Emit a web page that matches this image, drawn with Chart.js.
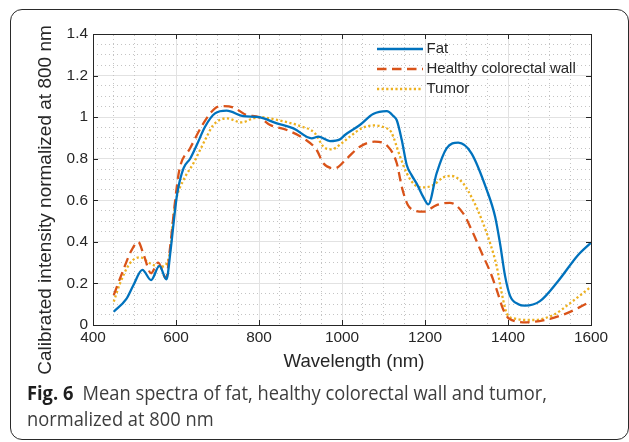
<!DOCTYPE html>
<html>
<head>
<meta charset="utf-8">
<script src="https://cdn.jsdelivr.net/npm/chart.js@4/dist/chart.umd.min.js"></script>
<style>
  html, body { margin: 0; padding: 0; background: #fff; }
  body { width: 629px; height: 442px; position: relative; overflow: hidden; }
  #frame {
    position: absolute; left: 10px; top: 9px; width: 619px; height: 431px;
    box-sizing: border-box; border: 1.3px solid #2a2a2a; border-radius: 12px;
  }
  #spectra-chart { position: absolute; left: 0; top: 0; }
  #caption {
    position: absolute; left: 27px; top: 380px; white-space: nowrap;
    font-family: "Open Sans", sans-serif; font-size: 20px; line-height: 26px;
    color: #3d3d3d; transform-origin: 0 0;
  }
  #caption b { color: #1e1e1e; margin-right: 10px; }
</style>
</head>
<body>
<div id="frame"></div>
<canvas id="spectra-chart" width="629" height="442"></canvas>
<div id="caption"><span id="cap-line"><b>Fig. 6</b>Mean spectra of fat, healthy colorectal wall and tumor,</span><br>normalized at 800 nm</div>
<script>
const X_TITLE = 'Wavelength (nm)';
const Y_TITLE = 'Calibrated intensity normalized at 800 nm';
const SERIES_NAMES = ['Fat', 'Healthy colorectal wall', 'Tumor'];

// values (wavelength in nm, intensity normalized at 800 nm)
const fatWl = [450, 480, 497, 519, 540, 560, 577, 587, 595, 603, 618, 634, 650, 670, 694, 722, 762, 800, 843, 883,
  927, 943, 971, 995, 1007, 1043, 1075, 1108, 1124, 1132, 1144, 1156, 1168, 1180, 1196, 1208, 1228, 1252, 1280, 1312,
  1349, 1369, 1381, 1393, 1405, 1425, 1441, 1477, 1521, 1569, 1600];
const fatVal = [0.064, 0.124, 0.19, 0.265, 0.216, 0.284, 0.22, 0.36, 0.505, 0.633, 0.754, 0.80, 0.866, 0.954, 1.018, 1.031, 1.005, 1.0, 0.970, 0.946,
  0.898, 0.906, 0.885, 0.893, 0.914, 0.962, 1.015, 1.029, 1.005, 0.985, 0.89, 0.77, 0.72, 0.68, 0.615, 0.58, 0.73, 0.85, 0.877, 0.826,
  0.649, 0.521, 0.39, 0.235, 0.14, 0.1, 0.093, 0.115, 0.212, 0.337, 0.396];

const healthyWl = [450, 473, 493, 509, 521, 540, 557, 576, 586, 598, 608, 634, 666, 694, 714, 738, 770, 800, 827, 867,
  911, 939, 955, 983, 1011, 1043, 1078, 1110, 1132, 1144, 1158, 1176, 1196, 1228, 1260, 1292, 1316, 1337, 1357, 1373,
  1389, 1403, 1445, 1501, 1541, 1578, 1600];
const healthyVal = [0.144, 0.265, 0.36, 0.40, 0.345, 0.249, 0.30, 0.224, 0.377, 0.60, 0.746, 0.85, 0.97, 1.042, 1.053, 1.047, 1.01, 1.0, 0.962, 0.938,
  0.893, 0.842, 0.778, 0.754, 0.80, 0.858, 0.882, 0.86, 0.778, 0.665, 0.58, 0.55, 0.545, 0.577, 0.588, 0.537, 0.441, 0.345, 0.256, 0.168,
  0.072, 0.03, 0.013, 0.03, 0.056, 0.091, 0.114];

const tumorWl = [450, 465, 489, 513, 537, 561, 578, 586, 592, 600, 618, 642, 670, 690, 722, 758, 786, 802, 851, 899,
  935, 955, 975, 999, 1019, 1047, 1077, 1104, 1118, 1140, 1156, 1176, 1196, 1220, 1244, 1264, 1292, 1316, 1337, 1357,
  1373, 1385, 1397, 1413, 1461, 1509, 1549, 1600];
const tumorVal = [0.112, 0.20, 0.297, 0.326, 0.297, 0.28, 0.297, 0.36, 0.489, 0.60, 0.697, 0.778, 0.89, 0.962, 0.994, 0.975, 0.994, 1.0, 0.983, 0.957,
  0.922, 0.858, 0.845, 0.874, 0.906, 0.946, 0.96, 0.949, 0.93, 0.81, 0.73, 0.673, 0.662, 0.673, 0.71, 0.717, 0.681, 0.60, 0.505, 0.393,
  0.28, 0.152, 0.056, 0.032, 0.024, 0.048, 0.104, 0.184];

const TEXT_COLOR = '#262626';
const FONT_FAMILY = 'Liberation Sans, Arial, Helvetica, sans-serif';
const TICK_FONT = { family: FONT_FAMILY, size: 15.4 };

function toPoints(xs, ys) {
  return xs.map((x, i) => ({ x: x, y: ys[i] }));
}

function isMajor(v, step) {
  return Math.abs(v / step - Math.round(v / step)) < 1e-6;
}

// plain numbers like MATLAB: 1, 1.2, 1400
function plainLabel(v) {
  return String(Math.round(v * 100) / 100);
}

// inward tick marks on all four sides, axis titles and the inside legend
const axisExtras = {
  id: 'axisExtras',
  afterDraw(chart) {
    const { ctx, chartArea: a, scales: { x, y } } = chart;
    ctx.save();
    ctx.strokeStyle = TEXT_COLOR;
    ctx.lineWidth = 1;
    ctx.beginPath();
    x.ticks.forEach(t => {
      const px = Math.round(x.getPixelForValue(t.value)) + 0.5;
      ctx.moveTo(px, a.bottom); ctx.lineTo(px, a.bottom - 5);
      ctx.moveTo(px, a.top); ctx.lineTo(px, a.top + 5);
    });
    y.ticks.forEach(t => {
      const py = Math.round(y.getPixelForValue(t.value)) + 0.5;
      ctx.moveTo(a.left, py); ctx.lineTo(a.left + 5, py);
      ctx.moveTo(a.right, py); ctx.lineTo(a.right - 5, py);
    });
    ctx.stroke();

    ctx.fillStyle = TEXT_COLOR;
    ctx.textAlign = 'center';
    ctx.textBaseline = 'middle';
    ctx.font = '18.6px ' + FONT_FAMILY;
    ctx.fillText(X_TITLE, 354, 362);

    ctx.save();
    ctx.translate(46, 200);
    ctx.rotate(-Math.PI / 2);
    ctx.font = '19px ' + FONT_FAMILY;
    ctx.fillText(Y_TITLE, 0, 0);
    ctx.restore();

    // legend
    ctx.font = '15px ' + FONT_FAMILY;
    ctx.textAlign = 'left';
    chart.data.datasets.forEach((ds, i) => {
      const ly = 49 + i * 20;
      ctx.save();
      ctx.strokeStyle = ds.borderColor;
      ctx.lineWidth = ds.borderWidth;
      ctx.setLineDash(ds.borderDash || []);
      ctx.beginPath();
      ctx.moveTo(377, ly); ctx.lineTo(423, ly);
      ctx.stroke();
      ctx.restore();
      ctx.fillText(ds.label, 426.5, ly);
    });
    ctx.restore();
  }
};

const ctx = document.getElementById('spectra-chart');
const spectraChart = new Chart(ctx, {
  type: 'line',
  data: {
    datasets: [{
      label: SERIES_NAMES[0],
      data: toPoints(fatWl, fatVal),
      borderColor: '#0072BD',
      borderWidth: 2.3
    }, {
      label: SERIES_NAMES[1],
      data: toPoints(healthyWl, healthyVal),
      borderColor: '#D95319',
      borderWidth: 2.3,
      borderDash: [9.5, 5.5]
    }, {
      label: SERIES_NAMES[2],
      data: toPoints(tumorWl, tumorVal),
      borderColor: '#EDB120',
      borderWidth: 2.3,
      borderDash: [2.2, 2.4]
    }]
  },
  options: {
    responsive: false,
    animation: false,
    devicePixelRatio: 1,
    cubicInterpolationMode: 'monotone',
    elements: { point: { radius: 0 }, line: { borderCapStyle: 'butt' } },
    layout: { padding: { left: 0, top: 34, right: 38, bottom: 87 } },
    plugins: { legend: { display: false }, tooltip: { enabled: false } },
    scales: {
      x: {
        type: 'linear', position: 'bottom', min: 400, max: 1600,
        ticks: { stepSize: 200, color: TEXT_COLOR, font: TICK_FONT, padding: 4, maxRotation: 0, callback: plainLabel },
        grid: { color: '#e2e2e2', drawTicks: false },
        border: { color: TEXT_COLOR, width: 1 },
        afterFit: s => { s.height = 30; }
      },
      y: {
        type: 'linear', position: 'left', min: 0, max: 1.4,
        ticks: { stepSize: 0.2, color: TEXT_COLOR, font: TICK_FONT, padding: 5, callback: plainLabel },
        grid: { color: '#e2e2e2', drawTicks: false },
        border: { color: TEXT_COLOR, width: 1 },
        afterFit: s => { s.width = 93; }
      },
      xMinor: {
        type: 'linear', position: 'top', min: 400, max: 1600,
        ticks: { stepSize: 50, display: false },
        grid: { color: c => isMajor(c.tick.value, 200) ? 'rgba(0,0,0,0)' : '#c4c4c4', drawTicks: false },
        border: { color: TEXT_COLOR, width: 1, dash: [1, 3] },
        afterFit: s => { s.height = 0; }
      },
      yMinor: {
        type: 'linear', position: 'right', min: 0, max: 1.4,
        ticks: { stepSize: 0.05, display: false },
        grid: { color: c => isMajor(c.tick.value, 0.2) ? 'rgba(0,0,0,0)' : '#c4c4c4', drawTicks: false },
        border: { color: TEXT_COLOR, width: 1, dash: [1, 3] },
        afterFit: s => { s.width = 0; }
      }
    }
  },
  plugins: [axisExtras]
});

// squeeze the caption to the width it has in the figure
const capLine = document.getElementById('cap-line');
const capW = capLine.getBoundingClientRect().width;
document.getElementById('caption').style.transform = 'scaleX(' + (520 / capW) + ')';
</script>
</body>
</html>
